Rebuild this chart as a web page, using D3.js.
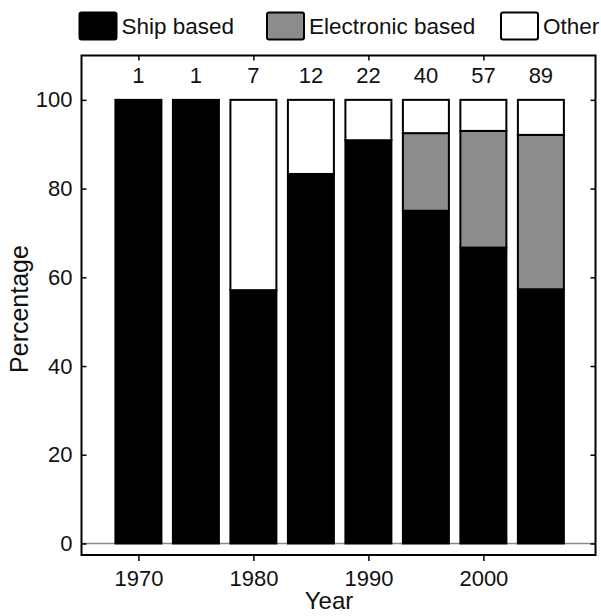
<!DOCTYPE html>
<html>
<head>
<meta charset="utf-8">
<script src="https://cdn.jsdelivr.net/npm/d3@7"></script>
<style>
  html, body { margin: 0; padding: 0; background: #fff; }
  svg { display: block; }
  text { font-family: "Liberation Sans", Arial, Helvetica, sans-serif; fill: #111; }
</style>
</head>
<body>
<script>
// ---- data ----
const years = [1970, 1975, 1980, 1985, 1990, 1995, 2000, 2005];
const counts = [1, 1, 7, 12, 22, 40, 57, 89];
const shipBased = [100, 100, 57.1, 83.3, 90.9, 75.0, 66.7, 57.3];
const electronicBased = [0, 0, 0, 0, 0, 17.5, 26.3, 34.8];
const other = [0, 0, 42.9, 16.7, 9.1, 7.5, 7.0, 7.9];
const seriesNames = ["Ship based", "Electronic based", "Other"];
const seriesColors = ["#000000", "#8c8c8c", "#ffffff"];
const yTicks = [0, 20, 40, 60, 80, 100];
const xTicks = [1970, 1980, 1990, 2000];

const W = 601, H = 616;
const margin = { left: 81.5, right: 5.5, top: 55.5, bottom: 61 };

const svg = d3.select("body").append("svg").attr("width", W).attr("height", H);

const x = d3.scaleLinear().domain([1965.05, 2009.75]).range([margin.left, W - margin.right]);
const y = d3.scaleLinear().domain([-2.6, 110]).range([H - margin.bottom, margin.top]);

const barW = 46;

// stacked data
const rows = years.map((yr, i) => ({ year: yr, ship: shipBased[i], elec: electronicBased[i], other: other[i] }));
const stack = d3.stack().keys(["ship", "elec", "other"]);
const stacked = stack(rows);

// zero line
svg.append("line")
  .attr("x1", x.range()[0]).attr("x2", x.range()[1])
  .attr("y1", y(0)).attr("y2", y(0))
  .attr("stroke", "#8a8a8a").attr("stroke-width", 1.5);

// bars
stacked.forEach((layer, li) => {
  svg.append("g").selectAll("rect")
    .data(layer.filter(d => d[1] - d[0] > 0))
    .join("rect")
    .attr("x", d => x(d.data.year) - barW / 2)
    .attr("width", barW)
    .attr("y", d => y(d[1]))
    .attr("height", d => y(d[0]) - y(d[1]))
    .attr("fill", seriesColors[li])
    .attr("stroke", "#000")
    .attr("stroke-width", 2);
});

// count labels
svg.append("g").selectAll("text")
  .data(years)
  .join("text")
  .attr("x", d => x(d))
  .attr("y", 83)
  .attr("text-anchor", "middle")
  .attr("font-size", 22)
  .text((d, i) => counts[i]);

// frame
svg.append("rect")
  .attr("x", x.range()[0]).attr("y", y.range()[1])
  .attr("width", x.range()[1] - x.range()[0])
  .attr("height", y.range()[0] - y.range()[1])
  .attr("fill", "none").attr("stroke", "#000").attr("stroke-width", 2);

// axes
const tickStyle = g => {
  g.select(".domain").remove();
  g.selectAll(".tick line").attr("stroke", "#000").attr("stroke-width", 1.5);
  g.selectAll(".tick text").attr("font-size", 22).attr("fill", "#111")
    .style("font-family", '"Liberation Sans", Arial, sans-serif');
};

svg.append("g")
  .attr("transform", `translate(0,${y.range()[0]})`)
  .call(d3.axisBottom(x).tickValues(xTicks).tickFormat(d3.format("d")).tickSize(6).tickPadding(9))
  .call(tickStyle);

svg.append("g")
  .attr("transform", `translate(0,${y.range()[1]})`)
  .call(d3.axisBottom(x).tickValues(xTicks).tickFormat("").tickSize(5))
  .call(tickStyle);

svg.append("g")
  .attr("transform", `translate(${x.range()[0]},0)`)
  .call(d3.axisLeft(y).tickValues(yTicks).tickSize(-5).tickPadding(9))
  .call(tickStyle);

svg.append("g")
  .attr("transform", `translate(${x.range()[1]},0)`)
  .call(d3.axisRight(y).tickValues(yTicks).tickFormat("").tickSize(-5))
  .call(tickStyle);

// axis titles
svg.append("text")
  .attr("x", 329)
  .attr("y", 609)
  .attr("text-anchor", "middle")
  .attr("font-size", 24)
  .text("Year");

svg.append("text")
  .attr("transform", `translate(28,309) rotate(-90)`)
  .attr("text-anchor", "middle")
  .attr("font-size", 25)
  .text("Percentage");

// legend
const legendX = [79.5, 267, 501];
const legend = svg.append("g");
seriesNames.forEach((name, i) => {
  legend.append("rect")
    .attr("x", legendX[i]).attr("y", 12.5)
    .attr("width", 37).attr("height", 27)
    .attr("rx", 2)
    .attr("fill", seriesColors[i])
    .attr("stroke", "#000").attr("stroke-width", 2);
  legend.append("text")
    .attr("x", legendX[i] + 42).attr("y", 33.5)
    .attr("font-size", 22.5)
    .text(name);
});
</script>
</body>
</html>
